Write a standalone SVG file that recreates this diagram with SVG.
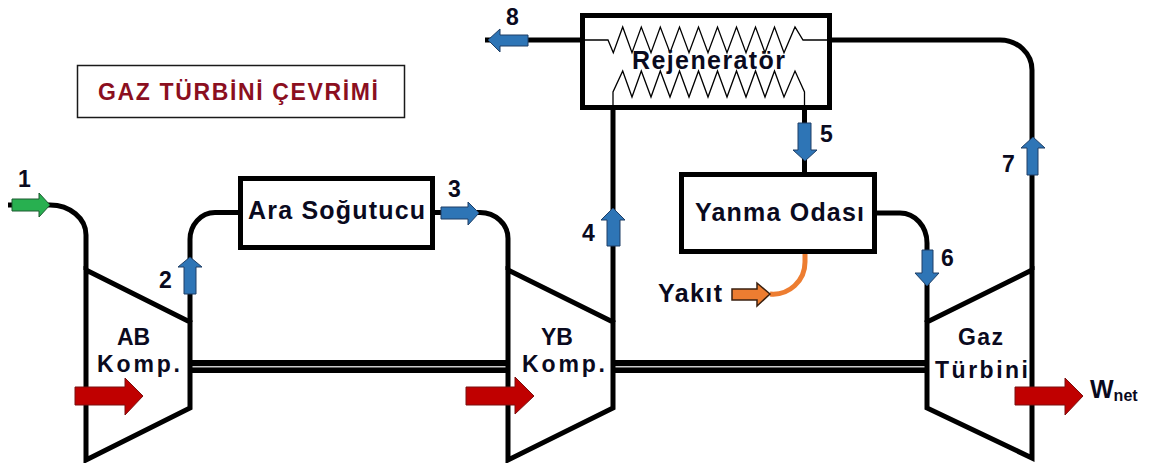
<svg xmlns="http://www.w3.org/2000/svg" width="1151" height="463" viewBox="0 0 1151 463">
<style>
.l{fill:none;stroke:#000;stroke-width:5;stroke-linejoin:miter}
.t{fill:none;stroke:#000;stroke-width:1.300}
.b{fill:#2e75b6;stroke:#1f3f66;stroke-width:1}
.r{fill:#c00000;stroke:#7a1010;stroke-width:1}
text{font-family:"Liberation Sans",Arial,sans-serif;font-weight:700;fill:#0a0a1e}
.n{font-size:23px}
.m{font-size:23px}
.x{font-size:25px}
</style>
<rect width="1151" height="463" fill="#fff"/>
<g id="connectors">
<path class="l" d="M8,205H50A36,30 0 0 1 86,235V270"/>
<path class="l" d="M190,322V240A25,27 0 0 1 215,212.500H238"/>
<path class="l" d="M435,212.500H480A28,26 0 0 1 508,238.500V270"/>
<path class="l" d="M613,322V108"/>
<path class="l" d="M804.500,108V172"/>
<path class="l" d="M877,213H900A27,30 0 0 1 927,243V322"/>
<path class="l" d="M1032,270V70A32,30 0 0 0 1000,40H830"/>
<path class="l" d="M582,40H485"/>
<path d="M805,254V262A32,32 0 0 1 770,294" fill="none" stroke="#ed7d31" stroke-width="5"/>
<rect x="192" y="360" width="315" height="13" fill="#000"/>
<rect x="192" y="366" width="315" height="1.500" fill="#ccc"/>
<rect x="615" y="360" width="310" height="13" fill="#000"/>
<rect x="615" y="366" width="310" height="1.500" fill="#ccc"/>
</g>
<g id="title"><rect x="77.500" y="65.500" width="327" height="52" fill="#fff" stroke="#1a1a1a" stroke-width="1.500"/>
<text x="98" y="100" textLength="280" style="font-size:23px;fill:#8b0f1f">GAZ TÜRBİNİ ÇEVRİMİ</text></g>
<g id="rejenerator"><rect class="l" x="582.500" y="15.500" width="247" height="92" fill="#fff"/>
<path class="t" d="M585,40H608L613.300,52.700L622.700,27L632,52.700L641.300,27L651,52.700L660.300,27L670,52.700L679.500,27L689,52.700L698.500,27L708,52.700L717.500,27L727,52.700L736.500,27L746,52.700L755.500,27L765,52.700L774.500,27L784,52.700L795,27L803,40H828"/>
<path class="t" d="M613,108V92L622.700,71L632,97L641.300,71L651,97L660.300,71L670,97L679.500,71L689,97L698.500,71L708,97L717.500,71L727,97L736.500,71L746,97L755.500,71L765,97L774.500,71L784,97L795,71L804.500,92V108"/>
<text class="x" x="632" y="69" textLength="153">Rejeneratör</text></g>
<g id="ara"><rect class="l" x="240.500" y="178.500" width="192" height="69" fill="#fff"/><text class="x" x="248" y="219" textLength="177">Ara Soğutucu</text></g>
<g id="yanma"><rect class="l" x="681.500" y="174.500" width="193" height="77" fill="#fff"/><text class="x" x="695" y="221" textLength="169">Yanma Odası</text></g>
<g id="ab"><path class="l" d="M86,270L190,322V408L86,460Z" fill="#fff"/><text class="m" x="117" y="345">AB</text><text class="m" x="97" y="372" textLength="83">Komp.</text></g>
<g id="yb"><path class="l" d="M508,270L613,322V408L508,460Z" fill="#fff"/><text class="m" x="541" y="345">YB</text><text class="m" x="522" y="372" textLength="83">Komp.</text></g>
<g id="gt"><path class="l" d="M1032,270L927,322V408L1032,458Z" fill="#fff"/><text class="m" x="958" y="345" textLength="45">Gaz</text><text class="m" x="935" y="378" textLength="93">Türbini</text></g>
<g id="arrows">
<path d="M12,199H39V193L50,205L39,217V211H12Z" fill="#28b050" stroke="#1c5a30"/>
<path class="b" d="M184,294V267H178L190,257L202,267H196V294Z"/>
<path class="b" d="M441,207H468V202L479,213L468,225V219H441Z"/>
<path class="b" d="M607,246V220H601L613,208L625,220H620V246Z"/>
<path class="b" d="M798,123V150H793L805,161L817,150H811V123Z"/>
<path class="b" d="M922,250V273H915L927,286L939,273H933V250Z"/>
<path class="b" d="M1027,175V148H1021L1033,137L1045,148H1038V175Z"/>
<path class="b" d="M528,35H500V29L488,40L500,52V46H528Z"/>
<path d="M732,289H757V283L770,294L757,306V300H732Z" fill="#ed7d31" stroke="#3a2010" stroke-width="1.500"/>
<path class="r" d="M75,387H125V378L143,396L125,415V405H75Z"/>
<path class="r" d="M466,387H515V377L534,396L515,414V405H466Z"/>
<path class="r" d="M1015,387H1065V378L1083,396L1065,415V405H1015Z"/>
</g>
<g id="labels">
<text class="n" x="18" y="187">1</text><text class="n" x="159" y="288">2</text><text class="n" x="448" y="197">3</text><text class="n" x="582" y="241">4</text><text class="n" x="820" y="142">5</text><text class="n" x="941" y="266">6</text><text class="n" x="1002" y="172">7</text><text class="n" x="506" y="25">8</text>
<text class="x" x="658" y="302" textLength="64">Yakıt</text>
<text x="1090" y="398" style="font-size:25px">W<tspan style="font-size:16px" dy="3">net</tspan></text>
</g>
</svg>
